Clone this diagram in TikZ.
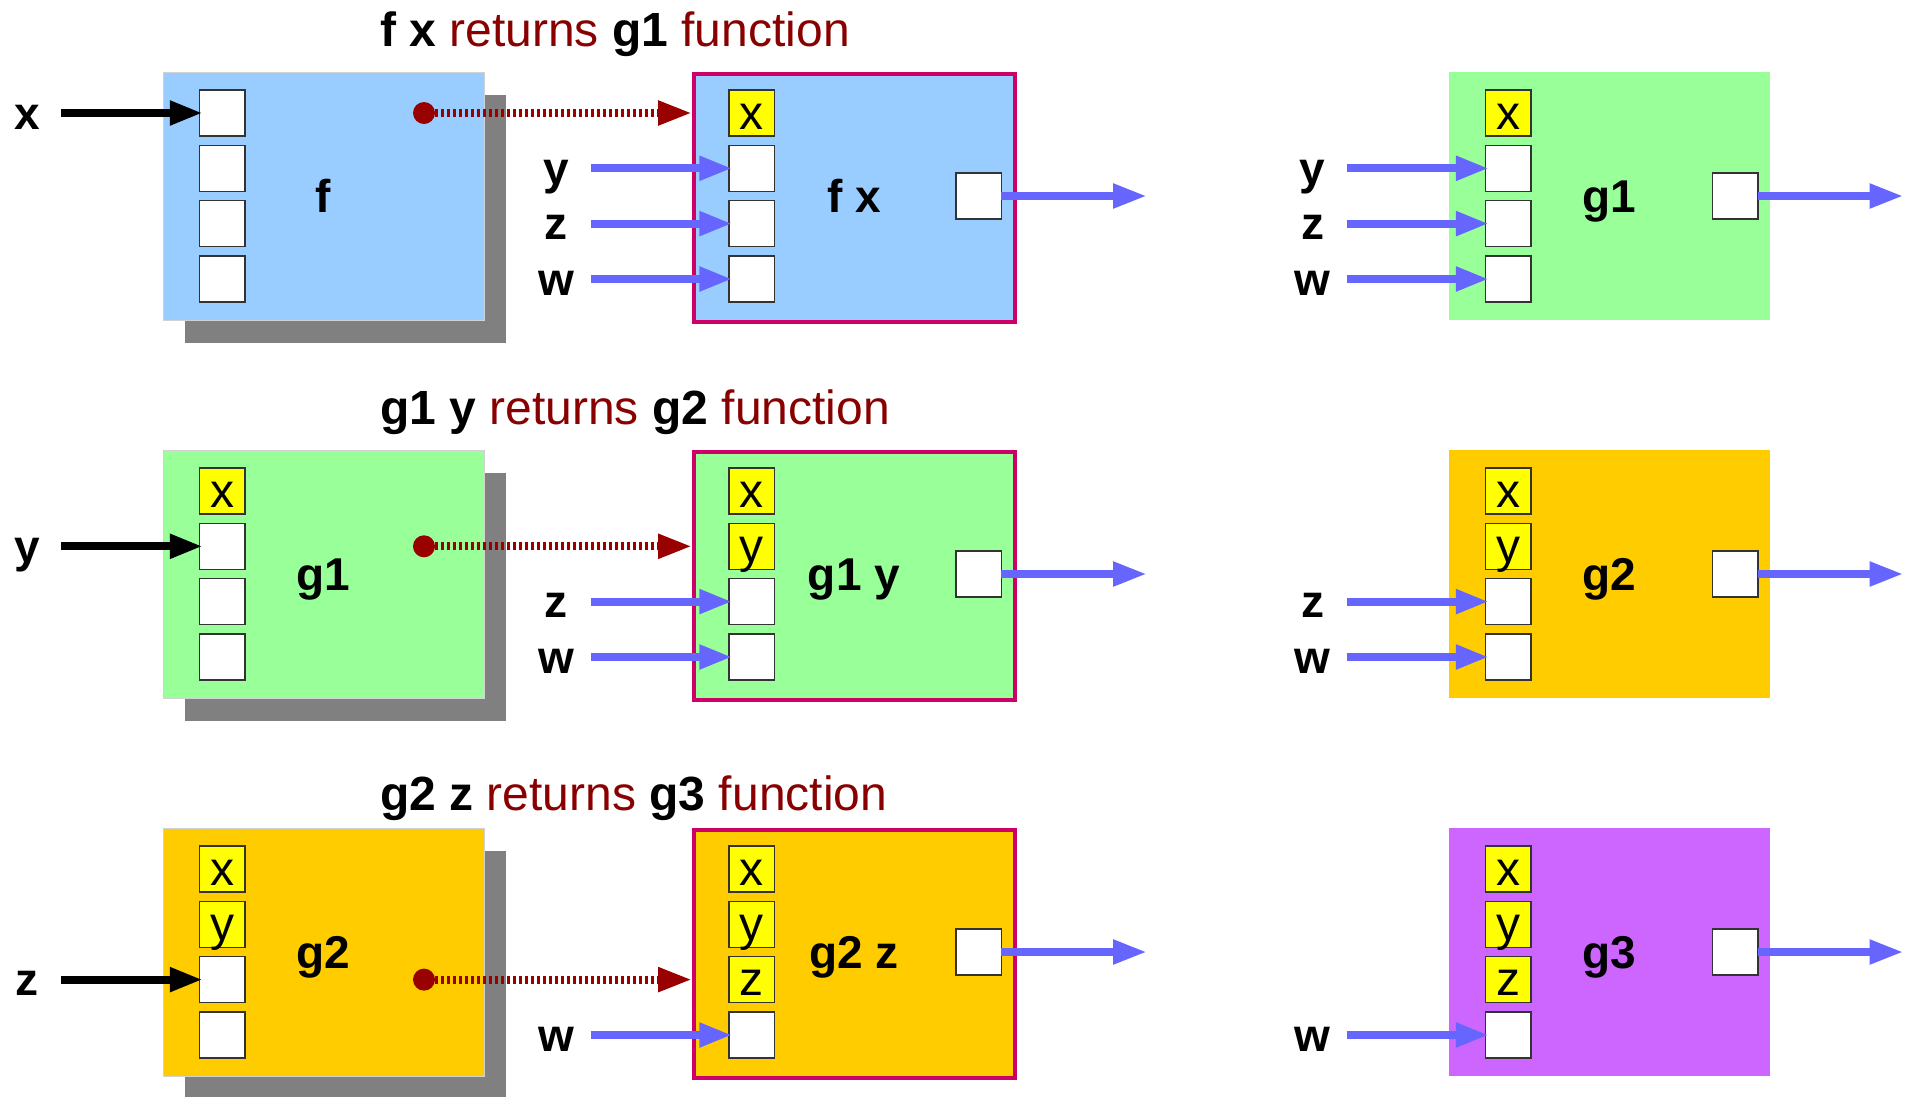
\documentclass[tikz,border=0pt]{standalone}
\usepackage{fontspec}
\setmainfont{Liberation Sans}
\usetikzlibrary{arrows.meta,calc}
\definecolor{fblue}{HTML}{99CCFF}
\definecolor{fgreen}{HTML}{99FF99}
\definecolor{forange}{HTML}{FFCC00}
\definecolor{fpurple}{HTML}{CC66FF}
\definecolor{fyellow}{HTML}{FFFF00}
\definecolor{argblue}{HTML}{6666FF}
\definecolor{dred}{HTML}{990000}
\definecolor{tred}{HTML}{880000}
\definecolor{frameline}{HTML}{CC0066}
\definecolor{shade}{HTML}{808080}
\tikzset{
 funcbox/.style={rectangle, minimum width=321pt, minimum height=248pt, inner sep=0pt, anchor=north west},
 shadowbox/.style={funcbox, fill=shade},
 leftbox/.style={funcbox, draw=gray!35, line width=1pt},
 midbox/.style={funcbox, draw=frameline, line width=3.5pt},
 slotbox/.style={rectangle, draw=black!80, line width=1.5pt, fill=white, minimum width=45.5pt, minimum height=46pt, inner sep=0pt},
 argslot/.style={slotbox, fill=fyellow},
 slottext/.style={anchor=base, inner sep=0pt, font=\fontsize{48}{50}\selectfont},
 boxlabel/.style={anchor=base, inner sep=0pt, font=\fontsize{46}{50}\selectfont\bfseries},
 titletext/.style={anchor=base west, inner sep=0pt, font=\fontsize{48}{56}\selectfont},
 inarrow/.style={line width=8pt, -{Triangle[length=33pt,width=23pt]}, shorten >=-4pt},
 blackarrow/.style={inarrow, draw=black},
 bluearrow/.style={inarrow, draw=argblue},
 outarrow/.style={line width=8pt, draw=argblue, -{Triangle[length=34pt,width=23pt]}, shorten <=-1pt},
 retarrow/.style={line width=8pt, draw=dred, dash pattern=on 3pt off 3pt, -{Triangle[length=34pt,width=23pt]}},
 retdot/.style={circle, fill=dred, minimum size=22pt, inner sep=0pt},
}
\newcommand{\argslotnode}[4]{\node[argslot] (#1) at (#2,#3) {}; \node[slottext] (#1t) at ($(#1.center)+(0,16)$) {#4};}
\newcommand{\freeslotnode}[3]{\node[slotbox] (#1) at (#2,#3) {};}
\begin{document}
\begin{tikzpicture}[x=1pt,y=-1pt]
\useasboundingbox (0,0) rectangle (1914,1096);

% ================= ROW 1 =================
\node[titletext] (title1) at (380,46) {\textbf{f x} \textcolor{tred}{returns} \textbf{g1} \textcolor{tred}{function}};
% left box f
\node[shadowbox] (f1s) at (185,94.5) {};
\node[leftbox, fill=fblue] (f1) at (162.5,72) {};
\freeslotnode{f1a}{222.25}{113}
\freeslotnode{f1b}{222.25}{168.3}
\freeslotnode{f1c}{222.25}{223.6}
\freeslotnode{f1d}{222.25}{279}
\node[boxlabel] (f1l) at (323,212) {f};
\node[boxlabel] (x1l) at (27,129) {x};
\coordinate (x1s) at (61,113);
\draw[blackarrow] (x1s) -- (f1a.west);
% middle box f x
\node[midbox, fill=fblue] (m1) at (692,72) {};
\argslotnode{m1a}{751.75}{113}{x}
\freeslotnode{m1b}{751.75}{168.3}
\freeslotnode{m1c}{751.75}{223.6}
\freeslotnode{m1d}{751.75}{279}
\freeslotnode{m1o}{978.7}{196}
\node[boxlabel] (m1l) at (854,212) {f x};
\node[boxlabel] (y1l) at (556,184.3) {y};
\node[boxlabel] (z1l) at (556,239.6) {z};
\node[boxlabel] (w1l) at (556,295) {w};
\coordinate (y1s) at (590.6,168.3);
\coordinate (z1s) at (590.6,223.6);
\coordinate (w1s) at (590.6,279);
\draw[bluearrow] (y1s) -- (m1b.west);
\draw[bluearrow] (z1s) -- (m1c.west);
\draw[bluearrow] (w1s) -- (m1d.west);
\coordinate (m1e) at (1147,196);
\draw[outarrow] (m1o.east) -- (m1e);
% return arrow
\node[retdot] (d1) at (424,113) {};
\draw[retarrow] (d1.east) -- (m1.west |- d1);
% right box g1
\node[funcbox, fill=fgreen] (r1) at (1448.6,72) {};
\argslotnode{r1a}{1508.35}{113}{x}
\freeslotnode{r1b}{1508.35}{168.3}
\freeslotnode{r1c}{1508.35}{223.6}
\freeslotnode{r1d}{1508.35}{279}
\freeslotnode{r1o}{1735.1}{196}
\node[boxlabel] (r1l) at (1609,212) {g1};
\node[boxlabel] (ry1l) at (1312.7,184.3) {y};
\node[boxlabel] (rz1l) at (1312.7,239.6) {z};
\node[boxlabel] (rw1l) at (1312.7,295) {w};
\coordinate (ry1s) at (1346.6,168.3);
\coordinate (rz1s) at (1346.6,223.6);
\coordinate (rw1s) at (1346.6,279);
\draw[bluearrow] (ry1s) -- (r1b.west);
\draw[bluearrow] (rz1s) -- (r1c.west);
\draw[bluearrow] (rw1s) -- (r1d.west);
\coordinate (r1e) at (1903.5,196);
\draw[outarrow] (r1o.east) -- (r1e);

% ================= ROW 2 =================
\node[titletext] (title2) at (380,424) {\textbf{g1 y} \textcolor{tred}{returns} \textbf{g2} \textcolor{tred}{function}};
\node[shadowbox] (f2s) at (185,472.5) {};
\node[leftbox, fill=fgreen] (f2) at (162.5,450) {};
\argslotnode{f2a}{222.25}{491}{x}
\freeslotnode{f2b}{222.25}{546.3}
\freeslotnode{f2c}{222.25}{601.6}
\freeslotnode{f2d}{222.25}{657}
\node[boxlabel] (f2l) at (323,590) {g1};
\node[boxlabel] (y2l) at (27,562.3) {y};
\coordinate (y2s) at (61,546.3);
\draw[blackarrow] (y2s) -- (f2b.west);
\node[midbox, fill=fgreen] (m2) at (692,450) {};
\argslotnode{m2a}{751.75}{491}{x}
\argslotnode{m2b}{751.75}{546.3}{y}
\freeslotnode{m2c}{751.75}{601.6}
\freeslotnode{m2d}{751.75}{657}
\freeslotnode{m2o}{978.7}{574}
\node[boxlabel] (m2l) at (854,590) {g1 y};
\node[boxlabel] (z2l) at (556,617.6) {z};
\node[boxlabel] (w2l) at (556,673) {w};
\coordinate (z2s) at (590.6,601.6);
\coordinate (w2s) at (590.6,657);
\draw[bluearrow] (z2s) -- (m2c.west);
\draw[bluearrow] (w2s) -- (m2d.west);
\coordinate (m2e) at (1147,574);
\draw[outarrow] (m2o.east) -- (m2e);
\node[retdot] (d2) at (424,546.3) {};
\draw[retarrow] (d2.east) -- (m2.west |- d2);
\node[funcbox, fill=forange] (r2) at (1448.6,450) {};
\argslotnode{r2a}{1508.35}{491}{x}
\argslotnode{r2b}{1508.35}{546.3}{y}
\freeslotnode{r2c}{1508.35}{601.6}
\freeslotnode{r2d}{1508.35}{657}
\freeslotnode{r2o}{1735.1}{574}
\node[boxlabel] (r2l) at (1609,590) {g2};
\node[boxlabel] (rz2l) at (1312.7,617.6) {z};
\node[boxlabel] (rw2l) at (1312.7,673) {w};
\coordinate (rz2s) at (1346.6,601.6);
\coordinate (rw2s) at (1346.6,657);
\draw[bluearrow] (rz2s) -- (r2c.west);
\draw[bluearrow] (rw2s) -- (r2d.west);
\coordinate (r2e) at (1903.5,574);
\draw[outarrow] (r2o.east) -- (r2e);

% ================= ROW 3 =================
\node[titletext] (title3) at (380,810) {\textbf{g2 z} \textcolor{tred}{returns} \textbf{g3} \textcolor{tred}{function}};
\node[shadowbox] (f3s) at (185,850.5) {};
\node[leftbox, fill=forange] (f3) at (162.5,828) {};
\argslotnode{f3a}{222.25}{869}{x}
\argslotnode{f3b}{222.25}{924.3}{y}
\freeslotnode{f3c}{222.25}{979.6}
\freeslotnode{f3d}{222.25}{1035}
\node[boxlabel] (f3l) at (323,968) {g2};
\node[boxlabel] (z3l) at (27,995.6) {z};
\coordinate (z3s) at (61,979.6);
\draw[blackarrow] (z3s) -- (f3c.west);
\node[midbox, fill=forange] (m3) at (692,828) {};
\argslotnode{m3a}{751.75}{869}{x}
\argslotnode{m3b}{751.75}{924.3}{y}
\argslotnode{m3c}{751.75}{979.6}{z}
\freeslotnode{m3d}{751.75}{1035}
\freeslotnode{m3o}{978.7}{952}
\node[boxlabel] (m3l) at (854,968) {g2 z};
\node[boxlabel] (w3l) at (556,1051) {w};
\coordinate (w3s) at (590.6,1035);
\draw[bluearrow] (w3s) -- (m3d.west);
\coordinate (m3e) at (1147,952);
\draw[outarrow] (m3o.east) -- (m3e);
\node[retdot] (d3) at (424,979.6) {};
\draw[retarrow] (d3.east) -- (m3.west |- d3);
\node[funcbox, fill=fpurple] (r3) at (1448.6,828) {};
\argslotnode{r3a}{1508.35}{869}{x}
\argslotnode{r3b}{1508.35}{924.3}{y}
\argslotnode{r3c}{1508.35}{979.6}{z}
\freeslotnode{r3d}{1508.35}{1035}
\freeslotnode{r3o}{1735.1}{952}
\node[boxlabel] (r3l) at (1609,968) {g3};
\node[boxlabel] (rw3l) at (1312.7,1051) {w};
\coordinate (rw3s) at (1346.6,1035);
\draw[bluearrow] (rw3s) -- (r3d.west);
\coordinate (r3e) at (1903.5,952);
\draw[outarrow] (r3o.east) -- (r3e);
\end{tikzpicture}
\end{document}
